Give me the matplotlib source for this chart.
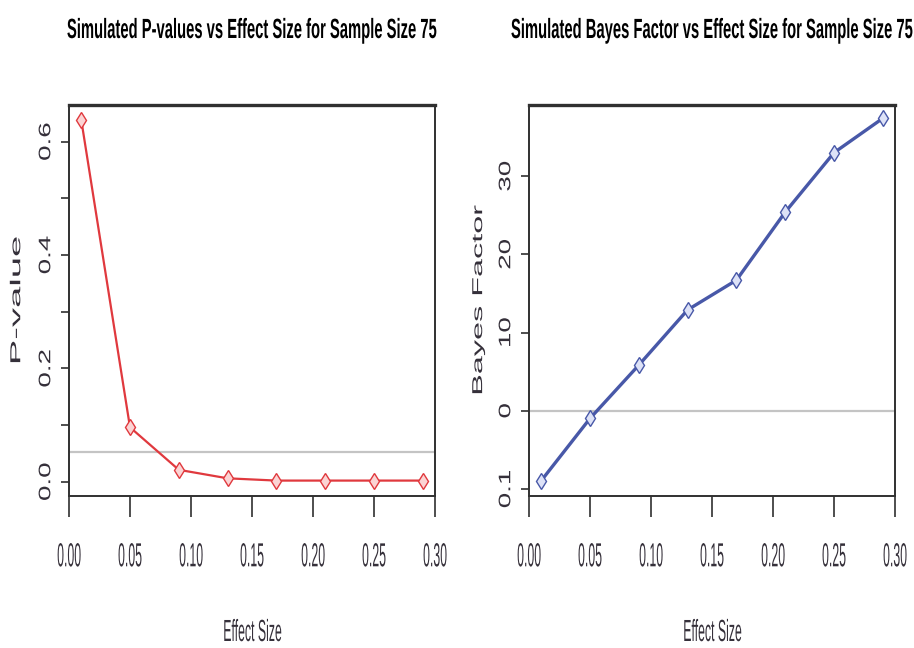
import matplotlib
matplotlib.use("Agg")
import matplotlib.pyplot as plt
from matplotlib.patheffects import AbstractPathEffect
from matplotlib.transforms import Affine2D
from matplotlib.textpath import TextPath
from matplotlib.font_manager import FontProperties

# Simulated results for sample size 75
effect = [0.01, 0.05, 0.09, 0.13, 0.17, 0.21, 0.25, 0.29]
p_values = [0.639, 0.096, 0.021, 0.006, 0.002, 0.002, 0.002, 0.002]
bayes = [-8.95, -0.98, 5.84, 12.9, 16.7, 25.4, 33.0, 37.4]

x_ticks = [0.00, 0.05, 0.10, 0.15, 0.20, 0.25, 0.30]
x_labels = ["0.00", "0.05", "0.10", "0.15", "0.20", "0.25", "0.30"]
p_ticks = [0.0, 0.1, 0.2, 0.3, 0.4, 0.5, 0.6]
p_labels = ["0.0", "", "0.2", "", "0.4", "", "0.6"]
bf_ticks = [-10, 0, 10, 20, 30]
bf_labels = ["0.1", "0", "10", "20", "30"]
p_cutoff = 0.053
bf_cutoff = 0

DPI = 100
FONT = "Liberation Sans"
plt.rcParams["font.family"] = [FONT, "DejaVu Sans"]


class Squeeze(AbstractPathEffect):
    """Scale glyph outlines about their centre (sx along the text, sy across)."""

    def __init__(self, sx=1.0, sy=1.0):
        super().__init__()
        self.sx, self.sy = sx, sy

    def draw_path(self, renderer, gc, tpath, affine, rgbFace=None):
        ext = tpath.get_extents()
        cx, cy = (ext.x0 + ext.x1) / 2, (ext.y0 + ext.y1) / 2
        t = Affine2D().translate(-cx, -cy).scale(self.sx, self.sy).translate(cx, cy)
        renderer.draw_path(gc, tpath, t + affine, rgbFace)


def fit_width(s, size, target_px, weight="normal"):
    fp = FontProperties(family=FONT, weight=weight)
    w = TextPath((0, 0), s, size=size, prop=fp).get_extents().width * DPI / 72
    return target_px / w


W, H = 914, 648
fig = plt.figure(figsize=(W / DPI, H / DPI), dpi=DPI)
fig.patch.set_facecolor("white")

frame = "#303030"
txt = "#35303a"
red = "#e0393e"
blue = "#4858a8"

ax1 = fig.add_axes([69 / W, 1 - 496 / H, 366 / W, 391 / H])
ax2 = fig.add_axes([529 / W, 1 - 496 / H, 366 / W, 391 / H])

ax1.axhline(p_cutoff, color="#c4c4c4", lw=1.6, zorder=1)
ax1.plot(effect, p_values, color=red, lw=1.6, marker="d", ms=8,
         mfc="#fbd4d4", mec=red, mew=1.0, zorder=3)
ax1.set_ylim(-0.0252, 0.6647)

ax2.axhline(bf_cutoff, color="#c4c4c4", lw=1.6, zorder=1)
ax2.plot(effect, bayes, color=blue, lw=2.4, marker="d", ms=8,
         mfc="#dde2f7", mec=blue, mew=1.0, zorder=3)
ax2.set_ylim(-10.9, 39.1)

tick_sx = fit_width("0.00", 24, 23)
title_sx = fit_width("Simulated P-values vs Effect Size for Sample Size 75", 20, 369, "bold")
xlab_sx = fit_width("Effect Size", 22, 57)

for ax, yt, yl in [(ax1, p_ticks, p_labels), (ax2, bf_ticks, bf_labels)]:
    ax.set_xlim(0, 0.30)
    ax.set_xticks(x_ticks, x_labels, fontsize=24, color=txt, va="center",
                  path_effects=[Squeeze(tick_sx, 1.0)])
    ax.set_yticks(yt, yl, fontsize=20, color=txt, rotation=90, ha="center",
                  va="center", path_effects=[Squeeze(1.0, 0.6)])
    ax.tick_params(axis="x", length=15, width=1.2, color=frame, pad=29.5)
    ax.tick_params(axis="y", length=5.8, width=1.2, color=frame, pad=10)
    for sp in ax.spines.values():
        sp.set_color(frame)
        sp.set_linewidth(1.4)
    ax.spines["top"].set_linewidth(2.4)

titles = ["Simulated P-values vs Effect Size for Sample Size 75",
          "Simulated Bayes Factor vs Effect Size for Sample Size 75"]
ylabels = ["P-value", "Bayes Factor"]
ylab_stretch = [1.25, 1.06]
for ax, title, ylab, ylab_x, st in zip([ax1, ax2], titles, ylabels, [18, 478], ylab_stretch):
    pos = ax.get_position()
    cx = (pos.x0 + pos.x1) / 2
    fig.text(cx, 1 - 31 / H, title, ha="center", va="center", fontsize=20,
             fontweight="bold", color="black",
             path_effects=[Squeeze(title_sx, 1.0)])
    fig.text(cx, 1 - 633 / H, "Effect Size", ha="center", va="center",
             fontsize=22, color=txt, path_effects=[Squeeze(xlab_sx, 1.0)])
    fig.text(ylab_x / W, (pos.y0 + pos.y1) / 2, ylab, ha="center", va="center",
             rotation=90, fontsize=22, color=txt,
             path_effects=[Squeeze(st, 0.47)])

fig.savefig("out.png", dpi=DPI)
